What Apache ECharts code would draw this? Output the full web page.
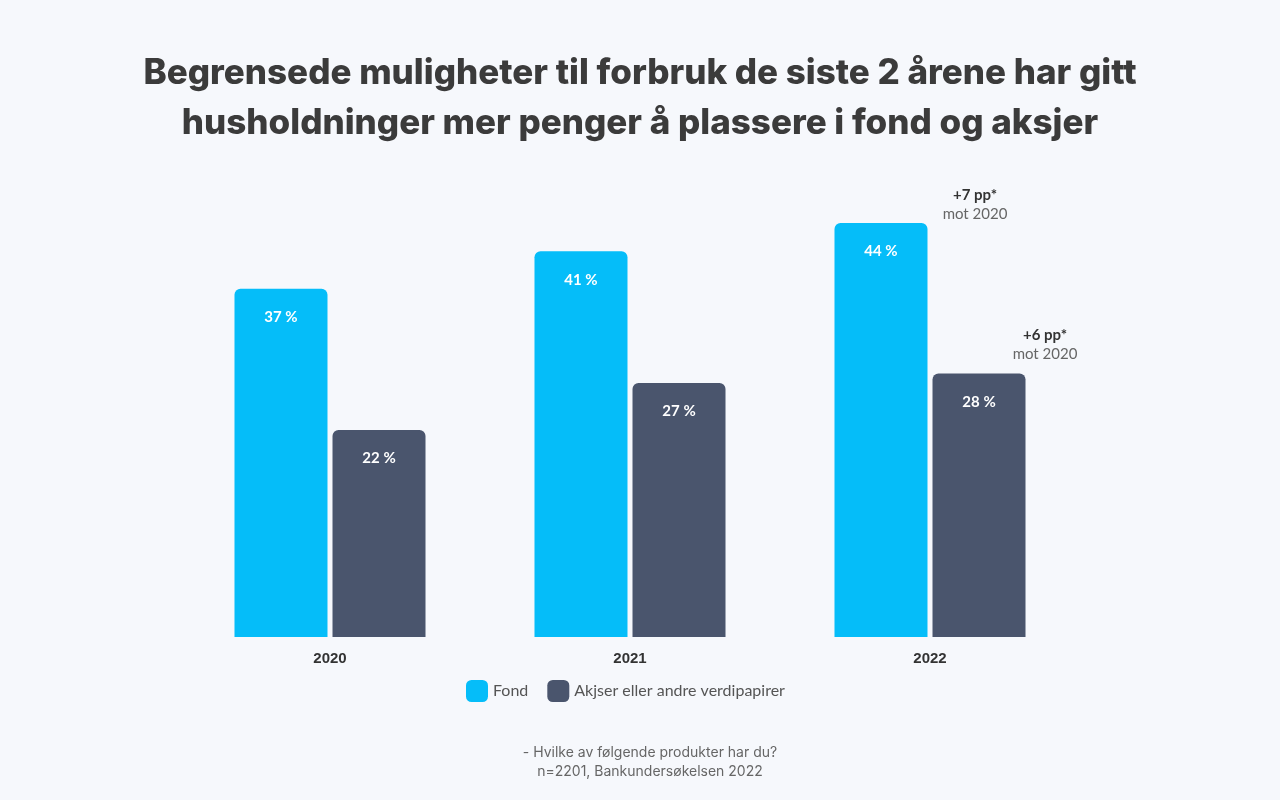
<!DOCTYPE html>
<html>
<head>
<meta charset="utf-8">
<script src="https://cdn.jsdelivr.net/npm/echarts@6/dist/echarts.min.js"></script>
<style>html,body{margin:0;padding:0;background:#f6f8fc;}#c{width:1280px;height:800px;}</style>
</head>
<body>
<div id="c"></div>
<script>
const years = ['2020', '2021', '2022'];
const fond = [37, 41, 44];
const aksjer = [22, 27, 28];
const seriesNames = ['Fond', 'Akjser eller andre verdipapirer'];
const titleText = 'Begrensede muligheter til forbruk de siste 2 årene har gitt\nhusholdninger mer penger å plassere i fond og aksjer';
const footerText = '- Hvilke av følgende produkter har du?\nn=2201, Bankundersøkelsen 2022';
const fondNote = { year: '2022', value: 44, bold: '+7 pp*', text: 'mot 2020' };
const aksjerNote = { year: '2022', value: 28, bold: '+6 pp*', text: 'mot 2020' };

const chart = echarts.init(document.getElementById('c'));
const noteLabel = (note, offset) => ({
  data: [{ coord: [note.year, note.value] }],
  symbol: 'circle', symbolSize: 0, silent: true,
  label: {
    show: true, offset: offset,
    formatter: '{b|' + note.bold + '}\n{n|' + note.text + '}',
    rich: {
      b: { fontFamily: 'Lato', fontWeight: 'bold', fontSize: 15, color: '#333', lineHeight: 19, align: 'center' },
      n: { fontFamily: 'Lato', fontSize: 15, color: '#666', lineHeight: 19, align: 'center' }
    }
  }
});
const insideLabel = {
  show: true, position: 'insideTop', distance: 21,
  formatter: '{c} %', color: '#fff', fontFamily: 'Lato', fontWeight: 'bold', fontSize: 15
};
chart.setOption({
  backgroundColor: '#f6f8fc',
  title: [{
    text: titleText, left: 'center', top: 43,
    textStyle: { fontFamily: 'Inter', fontWeight: 800, fontSize: 35, color: '#3b3b3b', lineHeight: 50 }
  }, {
    text: footerText, left: 645, top: 738, textAlign: 'center',
    textStyle: { fontFamily: 'Inter', fontWeight: 'normal', fontSize: 14, color: '#666', lineHeight: 19, align: 'center' }
  }],
  legend: {
    data: seriesNames, left: 461, top: 675, icon: 'roundRect', itemWidth: 22, itemHeight: 22, itemGap: 19,
    textStyle: { fontFamily: 'Lato', fontSize: 16, color: '#555' }
  },
  grid: { left: 180, right: 200, top: 166.5, bottom: 163 },
  xAxis: {
    type: 'category', data: years,
    axisLine: { show: false }, axisTick: { show: false },
    axisLabel: { margin: 14, fontFamily: 'Liberation Sans', fontWeight: 'bold', fontSize: 15, color: '#333' }
  },
  yAxis: { type: 'value', min: 0, max: 50, show: false, splitLine: { show: false } },
  series: [{
    name: seriesNames[0], type: 'bar', data: fond, barWidth: 93, barGap: '5.4%',
    itemStyle: { color: '#05bdf9', borderRadius: [6, 6, 0, 0] },
    label: insideLabel,
    markPoint: noteLabel(fondNote, [94, -18])
  }, {
    name: seriesNames[1], type: 'bar', data: aksjer, barWidth: 93,
    itemStyle: { color: '#4a556d', borderRadius: [6, 6, 0, 0] },
    label: insideLabel,
    markPoint: noteLabel(aksjerNote, [66, -29])
  }]
});
</script>
</body>
</html>
